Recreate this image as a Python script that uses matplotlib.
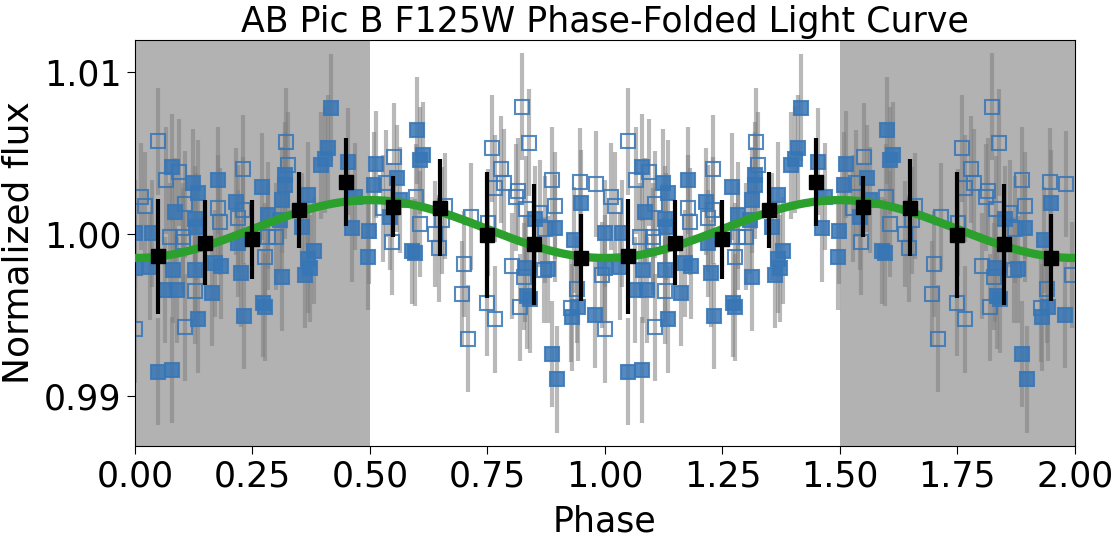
import numpy as np
import matplotlib
matplotlib.use("Agg")
import matplotlib.pyplot as plt

# Filled squares (first data set), phase in [0, 1)
filled_phase = [0.078, 0.123, 0.135, 0.177, 0.215, 0.085, 0.128, 0.000, 0.036, 0.131,
                0.220, 0.000, 0.032, 0.081, 0.128, 0.170, 0.184, 0.064, 0.089, 0.163,
                0.226, 0.135, 0.232, 0.050, 0.078,
                0.417, 0.410, 0.404, 0.397, 0.319, 0.319, 0.270, 0.312, 0.369, 0.454,
                0.468, 0.284, 0.309, 0.355, 0.461, 0.380, 0.369, 0.372, 0.362, 0.312,
                0.273, 0.277, 0.499, 0.496,
                0.514, 0.509, 0.557, 0.564, 0.543, 0.601, 0.613, 0.606, 0.589, 0.596,
                0.949, 0.851, 0.894, 0.935, 0.831, 0.878, 0.835, 0.840, 0.942, 0.930,
                0.979, 0.887, 0.899]
filled_flux = [1.00412, 1.00317, 1.00251, 1.00333, 1.00200, 1.00138, 1.00090, 1.00004, 1.00004, 1.00045,
               0.99943, 0.99788, 0.99798, 0.99778, 0.99778, 0.99819, 0.99802, 0.99654, 0.99654, 0.99638,
               0.99757, 0.99473, 0.99494, 0.99150, 0.99160,
               1.00782, 1.00529, 1.00461, 1.00426, 1.00364, 1.00302, 1.00292, 1.00210, 1.00241, 1.00446,
               1.00230, 1.00117, 1.00086, 1.00045, 1.00035, 0.99897, 0.99844, 0.99788, 0.99747, 0.99733,
               0.99572, 0.99547, 1.00020, 0.99860,
               1.00432, 1.00302, 1.00344, 1.00210, 1.00107, 1.00642, 1.00488, 1.00457, 0.99897, 0.99885,
               1.00190, 1.00090, 1.00035, 0.99963, 0.99788, 0.99782, 0.99617, 0.99597, 0.99547, 0.99486,
               0.99500, 0.99259, 0.99103]

# Open squares (second data set)
open_phase = [0.050, 0.094, 0.067, 0.230, 0.230, 0.220, 0.014, 0.021, 0.106, 0.177,
              0.181, 0.074, 0.103, 0.103, 0.128, 0.000, 0.106,
              0.321, 0.326, 0.284, 0.301, 0.277,
              0.552, 0.535, 0.528, 0.546, 0.599, 0.606, 0.660, 0.653, 0.638, 0.647,
              0.715, 0.701, 0.695, 0.708, 0.760, 0.750, 0.751,
              0.823, 0.839, 0.779, 0.786, 0.766, 0.816, 0.810, 0.833, 0.887, 0.894,
              0.947, 0.982, 0.862, 0.872, 0.803, 0.828, 0.871, 0.819, 0.766, 0.940,
              0.928, 0.993]
open_flux = [1.00574, 1.00381, 1.00333, 1.00405, 1.00148, 1.00097, 1.00230, 1.00175, 1.00185, 1.00159,
             1.00076, 0.99983, 0.99983, 0.99953, 0.99650, 0.99412, 0.99424,
             1.00570, 1.00426, 0.99983, 0.99983, 0.99860,
             1.00477, 1.00313, 1.00159, 0.99953, 1.00226, 1.00062, 1.00173, 1.00086, 1.00000, 0.99912,
             1.00107, 0.99815, 0.99630, 0.99354, 1.00529, 0.99576, 1.00070,
             1.00786, 1.00564, 1.00399, 1.00317, 1.00282, 1.00265, 1.00226, 1.00152, 1.00333, 1.00175,
             1.00323, 1.00309, 1.00128, 1.00029, 0.99802, 0.99736, 0.99778, 0.99547, 0.99473, 0.99659,
             0.99541, 0.99747]

point_err = 0.0033

# Binned light curve
bin_phase = [0.05, 0.15, 0.25, 0.35, 0.45, 0.55, 0.65, 0.75, 0.85, 0.95]
bin_flux = [0.99864, 0.99946, 0.99967, 1.00148, 1.00323, 1.00169, 1.00162, 0.99992, 0.99936, 0.99854]
bin_err = [0.00355, 0.00262, 0.00245, 0.00237, 0.00272, 0.0019, 0.0030, 0.0039, 0.00373, 0.0027]

# Sinusoid model fit (minimum at phase 0)
fit_mean = 1.00031
fit_amp = 0.00179

point_color = '#3776b6'

fig = plt.figure(figsize=(11.15, 5.39), dpi=100)
ax = fig.add_axes([0.121, 0.1725, 0.843, 0.7535])

ax.axvspan(0.0, 0.5, color='grey', alpha=0.6, lw=0, zorder=0)
ax.axvspan(1.5, 2.0, color='grey', alpha=0.6, lw=0, zorder=0)

for shift in [0, 1]:
    fp = np.array(filled_phase) + shift
    op = np.array(open_phase) + shift
    ax.errorbar(fp, filled_flux, yerr=point_err, fmt='none', ecolor='grey',
                alpha=0.55, elinewidth=3, zorder=1)
    ax.errorbar(op, open_flux, yerr=point_err, fmt='none', ecolor='grey',
                alpha=0.55, elinewidth=3, zorder=1)
    ax.plot(fp, filled_flux, 's', color=point_color, mfc=point_color, mec=point_color,
            alpha=0.85, ms=9.5, mew=1.5, zorder=2)
    ax.plot(op, open_flux, 's', mfc='none', mec=point_color,
            alpha=0.85, ms=9.5, mew=1.5, zorder=2)

phase_grid = np.linspace(0, 2, 400)
model = fit_mean - fit_amp * np.cos(2 * np.pi * phase_grid)
ax.plot(phase_grid, model, color='#2ca02c', lw=6, zorder=3)

all_bin_phase = np.concatenate([bin_phase, np.array(bin_phase) + 1])
all_bin_flux = bin_flux + bin_flux
all_bin_err = bin_err + bin_err
ax.errorbar(all_bin_phase, all_bin_flux, yerr=all_bin_err, fmt='s', color='black',
            ms=10, elinewidth=3, capsize=0, zorder=4)

ax.set_xlim(0, 2)
ax.set_ylim(0.9869, 1.012)
ax.set_xticks(np.arange(0, 2.01, 0.25))
ax.set_xticklabels(['%.2f' % t for t in np.arange(0, 2.01, 0.25)])
ax.set_yticks([0.99, 1.00, 1.01])
ax.set_yticklabels(['0.99', '1.00', '1.01'])
ax.tick_params(labelsize=25, length=6)

ax.set_xlabel('Phase', fontsize=25, labelpad=8)
ax.set_ylabel('Normalized flux', fontsize=26, labelpad=6)
ax.set_title('AB Pic B F125W Phase-Folded Light Curve', fontsize=25)

fig.savefig('out.png', dpi=100)
